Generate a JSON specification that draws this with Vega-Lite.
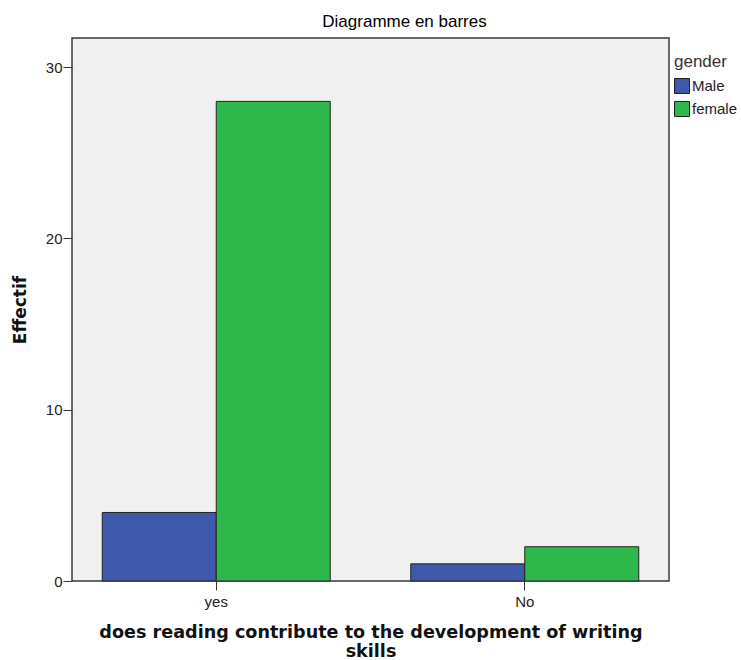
{
  "$schema": "https://vega.github.io/schema/vega-lite/v6.json",
  "width": 597,
  "height": 543,
  "autosize": {"type": "none"},
  "padding": {"left": 72, "top": 38, "right": 72, "bottom": 79},
  "background": "white",
  "title": {
    "text": "Diagramme en barres",
    "anchor": "middle",
    "dx": 34,
    "offset": 7,
    "fontSize": 17,
    "fontWeight": "normal",
    "font": "Liberation Sans",
    "color": "#000"
  },
  "data": {
    "values": [
      {"answer": "yes", "gender": "Male", "count": 4},
      {"answer": "yes", "gender": "female", "count": 28},
      {"answer": "No", "gender": "Male", "count": 1},
      {"answer": "No", "gender": "female", "count": 2}
    ]
  },
  "mark": {"type": "bar", "stroke": "#222", "strokeWidth": 1, "opacity": 1},
  "encoding": {
    "x": {
      "field": "answer",
      "type": "nominal",
      "sort": ["yes", "No"],
      "scale": {"paddingInner": 0.261, "paddingOuter": 0.098},
      "axis": {
        "title": ["does reading contribute to the development of writing", "skills"],
        "titleFont": "DejaVu Sans",
        "titleFontSize": 17.6,
        "titleFontWeight": "bold",
        "titlePadding": 14,
        "titleLineHeight": 19,
        "labelAngle": 0,
        "labelFontSize": 15,
        "labelPadding": 4,
        "tickSize": 9,
        "tickColor": "#333",
        "domain": false,
        "labelColor": "#222",
        "titleColor": "#111"
      }
    },
    "xOffset": {
      "field": "gender",
      "type": "nominal",
      "sort": ["Male", "female"],
      "scale": {"paddingInner": 0, "paddingOuter": 0}
    },
    "y": {
      "field": "count",
      "type": "quantitative",
      "scale": {"domain": [0, 31.7], "nice": false},
      "axis": {
        "title": "Effectif",
        "titleFont": "DejaVu Sans",
        "titleFontSize": 17,
        "titleFontWeight": "bold",
        "titlePadding": 16,
        "values": [0, 10, 20, 30],
        "labelFontSize": 15,
        "labelPadding": 1,
        "tickSize": 9,
        "tickColor": "#333",
        "domain": false,
        "grid": false,
        "labelColor": "#222",
        "titleColor": "#111"
      }
    },
    "color": {
      "field": "gender",
      "type": "nominal",
      "sort": ["Male", "female"],
      "scale": {"domain": ["Male", "female"], "range": ["#3e58ac", "#2eb84b"]},
      "legend": {
        "title": "gender",
        "orient": "none",
        "legendX": 602,
        "legendY": 16,
        "titleFontSize": 17,
        "titleFontWeight": "normal",
        "titleColor": "#333",
        "titlePadding": 7,
        "labelFontSize": 15,
        "labelColor": "#222",
        "labelOffset": 2,
        "symbolType": "square",
        "symbolSize": 225,
        "symbolStrokeColor": "#222",
        "symbolStrokeWidth": 1,
        "symbolOpacity": 1,
        "rowPadding": 3
      }
    }
  },
  "config": {
    "font": "Liberation Sans",
    "view": {"fill": "#f0f0f0", "stroke": "#3a3a3a", "strokeWidth": 1.5}
  }
}
